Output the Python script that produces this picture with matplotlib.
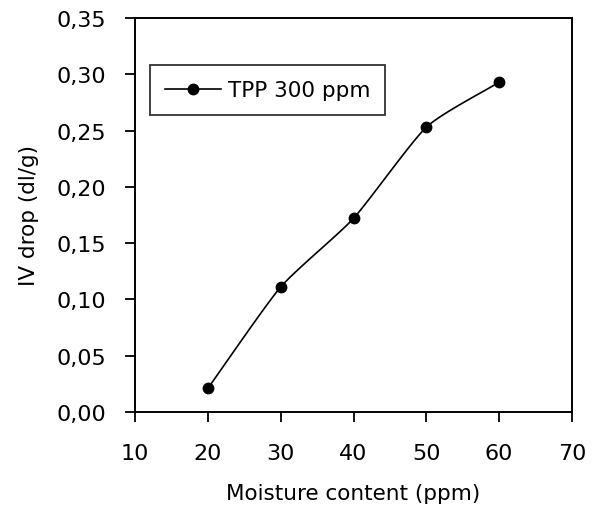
import numpy as np
import matplotlib
matplotlib.use("Agg")
import matplotlib.pyplot as plt
from matplotlib.ticker import FuncFormatter

moisture = [20, 30, 40, 50, 60]
iv_drop = [0.021, 0.111, 0.172, 0.253, 0.293]
series_label = "TPP 300 ppm"

plt.rcParams['font.family'] = ['DejaVu Sans']

fig = plt.figure(figsize=(5.96, 5.06), dpi=100)
ax = fig.add_axes([135/596, 1-413/506, (572-135)/596, (413-19)/506])

# smoothed line through the data points (cardinal spline, reduced tension)
x = np.array(moisture, float)
y = np.array(iv_drop, float)
px = np.concatenate([[2*x[0]-x[1]], x, [2*x[-1]-x[-2]]])
py = np.concatenate([[2*y[0]-y[1]], y, [2*y[-1]-y[-2]]])
k = 0.3
t = np.linspace(0, 1, 30)
h00 = 2*t**3 - 3*t**2 + 1
h10 = t**3 - 2*t**2 + t
h01 = -2*t**3 + 3*t**2
h11 = t**3 - t**2
sx, sy = [], []
for i in range(1, len(px)-2):
    for arr, out in ((px, sx), (py, sy)):
        m1 = k*(arr[i+1]-arr[i-1])
        m2 = k*(arr[i+2]-arr[i])
        out.extend(h00*arr[i] + h10*m1 + h01*arr[i+1] + h11*m2)
ax.plot(sx, sy, color='black', lw=1.2)
ax.plot(x, y, 'o', color='black', ms=7.5)
ax.plot([], [], '-o', color='black', ms=7.5, lw=1.2, label=series_label)

ax.set_xlim(10, 70)
ax.set_ylim(0, 0.35)
ax.set_xticks(np.arange(10, 71, 10))
ax.set_yticks(np.arange(0, 0.351, 0.05))
ax.yaxis.set_major_formatter(FuncFormatter(lambda v, p: f"{v:.2f}".replace('.', ',')))
ax.tick_params(direction='out', length=7, width=1.3, labelsize=16)
ax.tick_params(axis='y', pad=14)
ax.tick_params(axis='x', pad=15)
for s in ax.spines.values():
    s.set_linewidth(1.4)

ax.set_xlabel("Moisture content (ppm)", fontsize=15.5, labelpad=15)
ax.set_ylabel("IV drop (dl/g)", fontsize=15.5, labelpad=12)

leg = ax.legend(loc='upper left', bbox_to_anchor=(15/437, (413-66)/394), fontsize=15.5,
                frameon=True, fancybox=False, edgecolor='black', handlelength=2.6,
                handletextpad=0.3, borderpad=0.7, borderaxespad=0)
leg.get_frame().set_linewidth(1.3)

fig.savefig("out.png", dpi=100)
